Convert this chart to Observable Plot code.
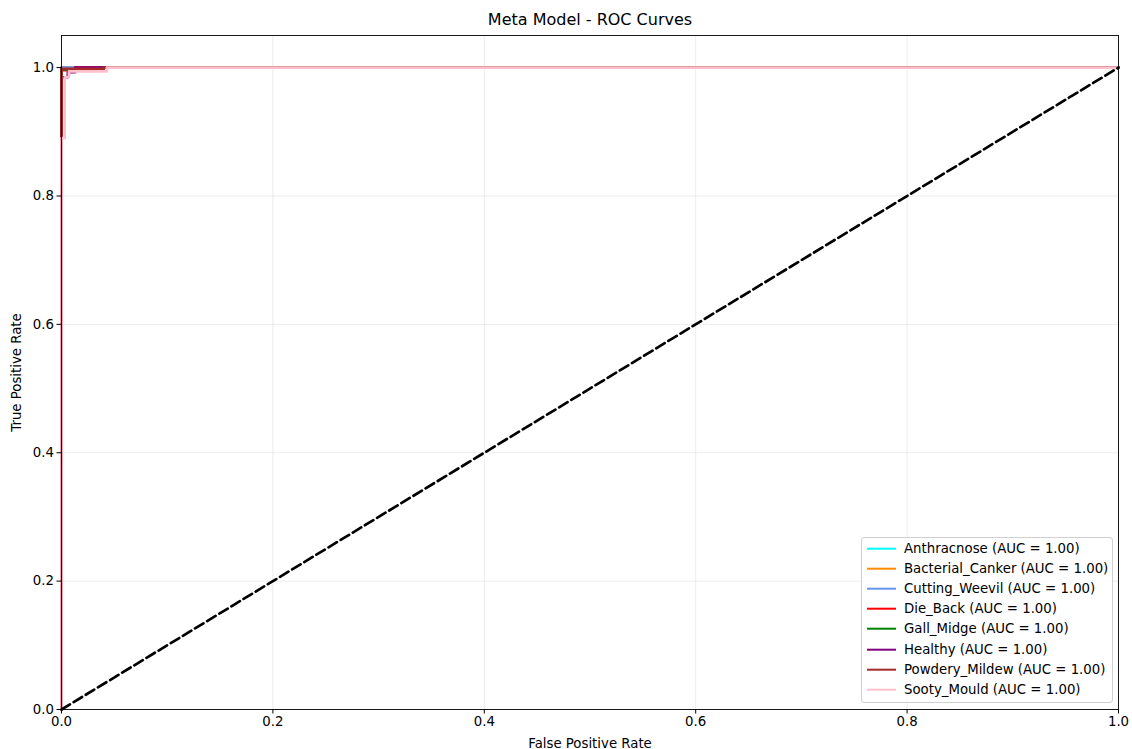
<!DOCTYPE html>
<html>
<head>
<meta charset="utf-8">
<script src="https://cdn.jsdelivr.net/npm/d3@7"></script>
<script src="https://cdn.jsdelivr.net/npm/@observablehq/plot@0.6"></script>
<style>
  html, body { margin: 0; padding: 0; background: #fff; }
  #wrap { position: relative; width: 1132px; height: 749px; font-family: "DejaVu Sans", sans-serif; }
  #title { position: absolute; left: 0; width: 1180px; top: 10px; text-align: center; font-size: 16px; color: #000; }
  #legend { position: absolute; left: 861px; top: 537px; width: 252px; height: 166px; border: 1px solid #d0d0d0; border-radius: 3px; background: rgba(255,255,255,0.8); box-sizing: border-box; }
  .row { position: absolute; left: 0; height: 20px; font-size: 13.3px; color: #000; white-space: nowrap; }
  .sw { position: absolute; left: 5px; top: 10px; width: 29px; height: 0; border-top: 2.6px solid; transform: translateY(-1.3px); }
  .lb { position: absolute; left: 42px; top: 2px; }
</style>
</head>
<body>
<div id="wrap">
  <div id="title">Meta Model - ROC Curves</div>
  <div id="chart"></div>
  <div id="legend"></div>
</div>
<script>
const classes = ["Anthracnose", "Bacterial_Canker", "Cutting_Weevil", "Die_Back", "Gall_Midge", "Healthy", "Powdery_Mildew", "Sooty_Mould"];
const colors = ["cyan", "darkorange", "cornflowerblue", "red", "green", "purple", "brown", "pink"];
const aucs = [1.00, 1.00, 1.00, 1.00, 1.00, 1.00, 1.00, 1.00];

const anthracnoseFpr = [0, 0, 1];
const anthracnoseTpr = [0, 1, 1];
const bacterialCankerFpr = [0, 0, 1];
const bacterialCankerTpr = [0, 1, 1];
const cuttingWeevilFpr = [0, 0, 1];
const cuttingWeevilTpr = [0, 1, 1];
const dieBackFpr = [0, 0, 0.013, 0.013, 1];
const dieBackTpr = [0, 0.996, 0.996, 1, 1];
const gallMidgeFpr = [0, 0, 0.037, 0.037, 1];
const gallMidgeTpr = [0, 0.997, 0.997, 1, 1];
const healthyFpr = [0, 0, 0.006, 0.006, 0.013, 0.013, 1];
const healthyTpr = [0, 0.985, 0.985, 0.993, 0.993, 1, 1];
const powderyMildewFpr = [0, 0, 0.04, 0.04, 1];
const powderyMildewTpr = [0, 0.998, 0.998, 1, 1];
const sootyMouldFpr = [0, 0, 0.003, 0.003, 0.007, 0.007, 0.043, 0.043, 1];
const sootyMouldTpr = [0, 0.89, 0.89, 0.985, 0.985, 0.994, 0.994, 1, 1];

const diagFpr = [0, 1];
const diagTpr = [0, 1];

const fprs = [anthracnoseFpr, bacterialCankerFpr, cuttingWeevilFpr, dieBackFpr, gallMidgeFpr, healthyFpr, powderyMildewFpr, sootyMouldFpr];
const tprs = [anthracnoseTpr, bacterialCankerTpr, cuttingWeevilTpr, dieBackTpr, gallMidgeTpr, healthyTpr, powderyMildewTpr, sootyMouldTpr];

const rows = [];
classes.forEach((c, i) => fprs[i].forEach((f, j) => rows.push({cls: c, order: i, fpr: f, tpr: tprs[i][j]})));
const diag = diagFpr.map((f, j) => ({fpr: f, tpr: diagTpr[j]}));

const lineMarks = classes.map((c, i) =>
  Plot.line(rows.filter(r => r.cls === c), {x: "fpr", y: "tpr", stroke: colors[i], strokeWidth: 2.67, curve: "linear"})
);

const tickVals = [0, 0.2, 0.4, 0.6, 0.8, 1.0];

const chart = Plot.plot({
  width: 1132,
  height: 749,
  marginLeft: 61,
  marginRight: 14,
  marginTop: 35,
  marginBottom: 40,
  style: {fontFamily: "DejaVu Sans, sans-serif", fontSize: "13.3px", color: "#000", background: "#fff"},
  x: {domain: [0, 1], ticks: tickVals, tickFormat: d3.format(".1f")},
  y: {domain: [0, 1.05], ticks: tickVals, tickFormat: d3.format(".1f")},
  marks: [
    Plot.gridX({ticks: tickVals, stroke: "#b0b0b0", strokeOpacity: 0.3, strokeWidth: 0.8}),
    Plot.gridY({ticks: tickVals, stroke: "#b0b0b0", strokeOpacity: 0.3, strokeWidth: 0.8}),
    ...lineMarks,
    Plot.line(diag, {x: "fpr", y: "tpr", stroke: "black", strokeWidth: 2.67, strokeDasharray: "9.9,4.3"}),
    Plot.frame({stroke: "#000", strokeWidth: 0.9}),
    Plot.axisX({ticks: tickVals, tickFormat: d3.format(".1f"), tickSize: 4.5, tickPadding: 3, label: "False Positive Rate", labelAnchor: "center", labelArrow: "none", labelOffset: 38, fontSize: 13.3}),
    Plot.axisY({ticks: tickVals, tickFormat: d3.format(".1f"), tickSize: 4.5, tickPadding: 3, label: "True Positive Rate", labelAnchor: "center", labelArrow: "none", labelOffset: 50, fontSize: 13.3})
  ]
});
document.getElementById("chart").appendChild(chart);

const legend = document.getElementById("legend");
classes.forEach((c, i) => {
  const row = document.createElement("div");
  row.className = "row";
  row.style.top = (1 + i * 20.1) + "px";
  const sw = document.createElement("div");
  sw.className = "sw";
  sw.style.borderTopColor = colors[i];
  const lb = document.createElement("div");
  lb.className = "lb";
  lb.textContent = `${c} (AUC = ${aucs[i].toFixed(2)})`;
  row.appendChild(sw);
  row.appendChild(lb);
  legend.appendChild(row);
});
</script>
</body>
</html>
